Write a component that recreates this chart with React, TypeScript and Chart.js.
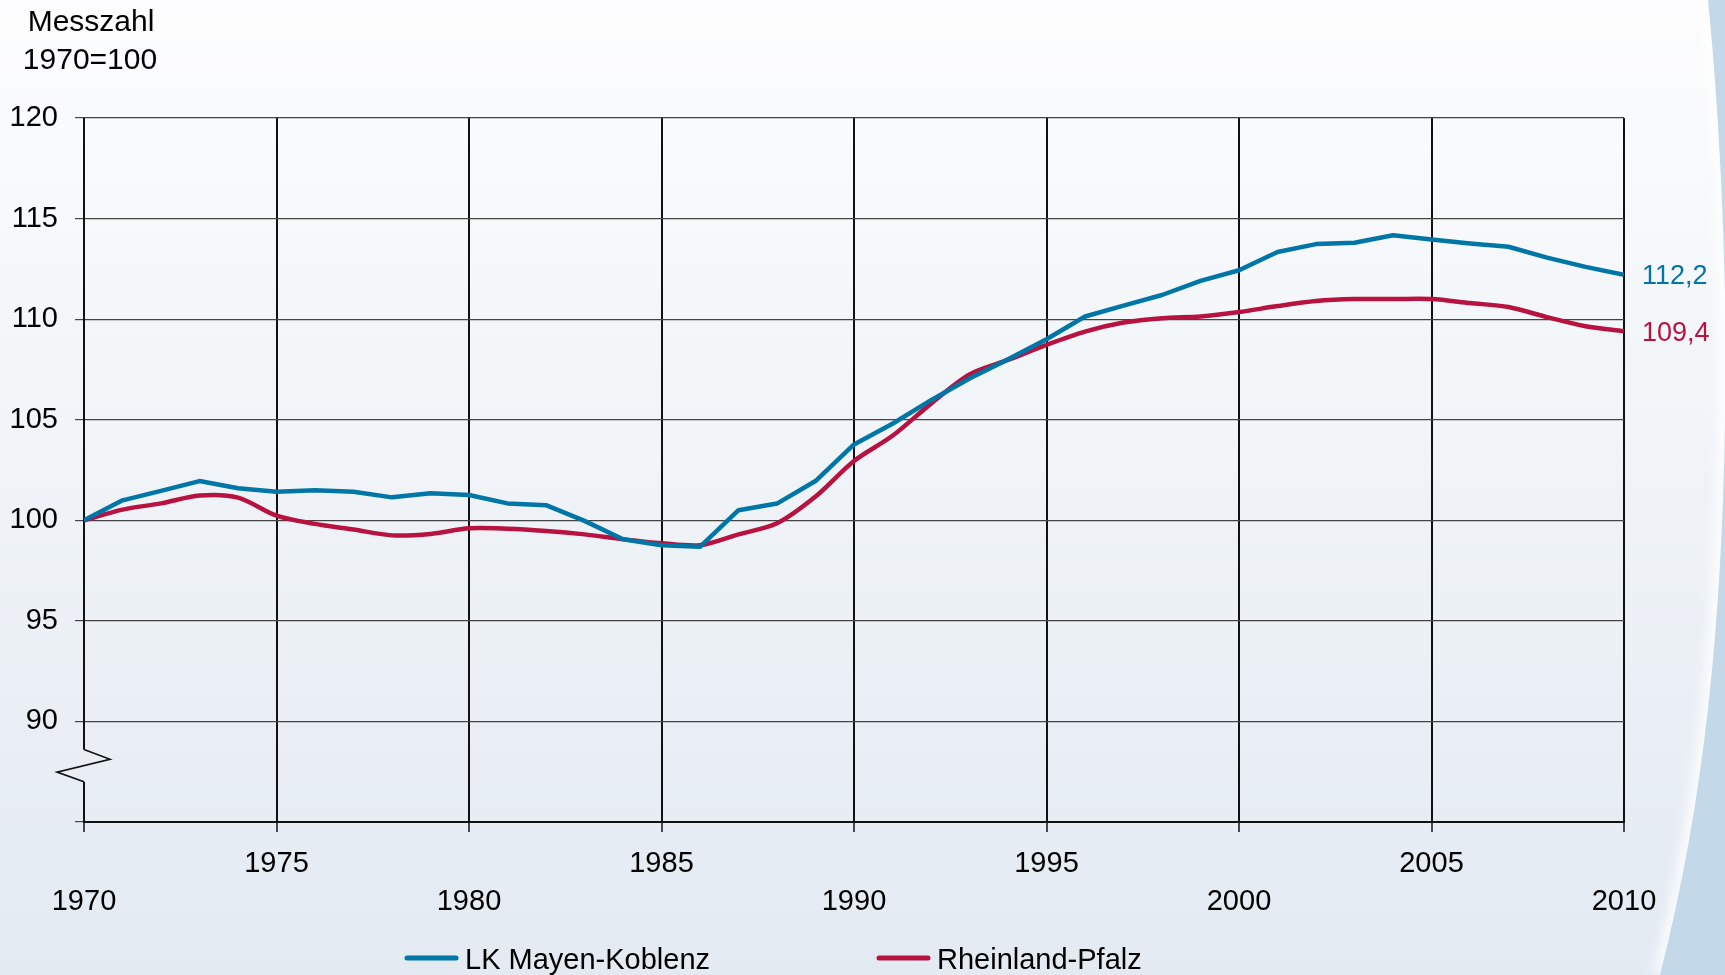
import React, { useEffect, useRef } from 'react';
import { Chart, registerables } from 'chart.js';

Chart.register(...registerables);

const years = [
  1970, 1971, 1972, 1973, 1974, 1975, 1976, 1977, 1978, 1979,
  1980, 1981, 1982, 1983, 1984, 1985, 1986, 1987, 1988, 1989,
  1990, 1991, 1992, 1993, 1994, 1995, 1996, 1997, 1998, 1999,
  2000, 2001, 2002, 2003, 2004, 2005, 2006, 2007, 2008, 2009, 2010,
];

const mayenKoblenz = [
  100, 100.99, 101.46, 101.95, 101.59, 101.42, 101.49, 101.42, 101.14, 101.34,
  101.26, 100.84, 100.75, 99.97, 99.06, 98.76, 98.68, 100.5, 100.83, 101.95,
  103.77, 104.8, 105.97, 107.05, 108.0, 109.0, 110.13, 110.67, 111.2, 111.9,
  112.43, 113.34, 113.73, 113.8, 114.17, 113.96, 113.76, 113.6, 113.06, 112.6, 112.2,
];

const rheinlandPfalz = [
  100, 100.53, 100.84, 101.23, 101.13, 100.23, 99.82, 99.54, 99.25, 99.32,
  99.6, 99.58, 99.47, 99.3, 99.06, 98.86, 98.76, 99.3, 99.85, 101.18,
  102.95, 104.2, 105.8, 107.25, 107.97, 108.72, 109.38, 109.83, 110.05, 110.13,
  110.35, 110.65, 110.9, 111.0, 111.0, 111.0, 110.8, 110.6, 110.1, 109.65, 109.4,
];

const seriesLabels = ['LK Mayen-Koblenz', 'Rheinland-Pfalz'];
const upperRowYears = [1975, 1985, 1995, 2005];
const yTitleLines = ['Messzahl', '1970=100'];
const axisBreak = [88.6, 87.0];

const BLUE = '#0076a6';
const RED = '#b81240';
const FONT = "'Liberation Sans', Arial, Helvetica, sans-serif";

function swooshPath(ctx: any) {
  ctx.moveTo(1708, 0);
  ctx.bezierCurveTo(1720, 120, 1728, 280, 1725, 420);
  ctx.bezierCurveTo(1722, 620, 1705, 800, 1660, 975);
}

const bgPlugin = {
  id: 'bgPlugin',
  beforeDraw(chart: any) {
    const { ctx, width, height } = chart;
    ctx.save();
    const g = ctx.createLinearGradient(0, 0, 0, height);
    g.addColorStop(0, '#fdfdfe');
    g.addColorStop(0.35, '#f3f6f9');
    g.addColorStop(1, '#e3eaf2');
    ctx.fillStyle = g;
    ctx.fillRect(0, 0, width, height);
    // soft white glow along the swoosh edge
    ctx.save();
    ctx.beginPath();
    swooshPath(ctx);
    ctx.strokeStyle = 'rgba(255,255,255,0.85)';
    ctx.lineWidth = 14;
    ctx.filter = 'blur(6px)';
    ctx.stroke();
    ctx.restore();
    // blue swoosh
    ctx.beginPath();
    swooshPath(ctx);
    ctx.lineTo(width, height);
    ctx.lineTo(width, 0);
    ctx.closePath();
    ctx.fillStyle = '#c3d8e8';
    ctx.fill();
    ctx.restore();
  },
};

const axisPlugin = {
  id: 'axisPlugin',
  beforeDatasetsDraw(chart: any) {
    const { ctx, chartArea } = chart;
    const y = chart.scales.y;
    const x0 = chartArea.left;
    const b1 = y.getPixelForValue(axisBreak[0]);
    const b2 = y.getPixelForValue(axisBreak[1]);
    const h = b2 - b1;
    ctx.save();
    ctx.strokeStyle = '#111';
    ctx.lineWidth = 2;
    ctx.beginPath();
    ctx.moveTo(x0, chartArea.top);
    ctx.lineTo(x0, b1);
    ctx.stroke();
    ctx.beginPath();
    ctx.moveTo(x0, b2);
    ctx.lineTo(x0, chartArea.bottom);
    ctx.stroke();
    ctx.lineWidth = 1.6;
    ctx.lineJoin = 'miter';
    ctx.beginPath();
    ctx.moveTo(x0, b1);
    ctx.lineTo(x0 + 26, b1 + h * 0.3);
    ctx.lineTo(x0 - 27, b1 + h * 0.7);
    ctx.lineTo(x0, b2);
    ctx.stroke();
    ctx.restore();
  },
};

const labelPlugin = {
  id: 'labelPlugin',
  afterDraw(chart: any) {
    const { ctx, chartArea } = chart;
    const y = chart.scales.y;
    ctx.save();
    // y-axis title
    ctx.fillStyle = '#000';
    ctx.textAlign = 'center';
    ctx.textBaseline = 'alphabetic';
    ctx.font = `30px ${FONT}`;
    ctx.fillText(yTitleLines[0], 91, 31);
    ctx.fillText(yTitleLines[1], 90, 69);

    // end value labels
    ctx.textAlign = 'left';
    ctx.textBaseline = 'middle';
    ctx.font = `27px ${FONT}`;
    chart.data.datasets.forEach((ds: any) => {
      const last = ds.data[ds.data.length - 1];
      ctx.fillStyle = ds.borderColor;
      ctx.fillText(last.y.toFixed(1).replace('.', ','), chartArea.right + 18, y.getPixelForValue(last.y) + 2);
    });

    // legend
    const starts = [405, 877];
    const ly = 958;
    chart.data.datasets.forEach((ds: any, i: number) => {
      const sx = starts[i];
      ctx.strokeStyle = ds.borderColor;
      ctx.lineWidth = 5;
      ctx.lineCap = 'round';
      ctx.beginPath();
      ctx.moveTo(sx + 2, ly);
      ctx.lineTo(sx + 51, ly);
      ctx.stroke();
      ctx.fillStyle = '#000';
      ctx.textAlign = 'left';
      ctx.textBaseline = 'alphabetic';
      ctx.font = `29px ${FONT}`;
      ctx.fillText(ds.label, sx + 60, 969);
    });
    ctx.restore();
  },
};

export default function App() {
  const canvasRef = useRef<HTMLCanvasElement | null>(null);

  useEffect(() => {
    const canvas = canvasRef.current;
    if (!canvas) return;
    const chart = new Chart(canvas, {
      type: 'line',
      data: {
        datasets: [
          {
            label: seriesLabels[0],
            data: years.map((x, i) => ({ x, y: mayenKoblenz[i] })),
            borderColor: BLUE,
            backgroundColor: BLUE,
            borderWidth: 4.5,
            pointRadius: 0,
            tension: 0,
            borderJoinStyle: 'round',
          },
          {
            label: seriesLabels[1],
            data: years.map((x, i) => ({ x, y: rheinlandPfalz[i] })),
            borderColor: RED,
            backgroundColor: RED,
            borderWidth: 4.5,
            pointRadius: 0,
            tension: 0.3,
            borderJoinStyle: 'round',
          },
        ],
      },
      options: {
        responsive: false,
        animation: false,
        devicePixelRatio: 1,
        layout: { padding: { top: 118, right: 101, left: 0, bottom: 0 } },
        plugins: {
          legend: { display: false },
          tooltip: { enabled: false },
          title: { display: false },
        },
        scales: {
          x: {
            type: 'linear',
            min: 1970,
            max: 2010,
            afterFit: (s: any) => {
              s.height = 153;
            },
            ticks: {
              stepSize: 5,
              autoSkip: false,
              maxRotation: 0,
              minRotation: 0,
              padding: 13,
              color: '#000',
              font: { family: FONT, size: 29, lineHeight: 1.3 },
              callback: (v: any) => {
                const n = Number(v);
                return upperRowYears.includes(n) ? [String(n), ''] : ['', String(n)];
              },
            },
            grid: {
              color: (c: any) => (c.tick && c.tick.value === 1970 ? 'rgba(0,0,0,0)' : '#111'),
              lineWidth: 2,
              tickLength: 10,
              tickColor: '#111',
              tickWidth: 1.5,
            },
            border: { display: true, color: '#111', width: 2 },
          },
          y: {
            min: 85,
            max: 120,
            afterFit: (s: any) => {
              s.width = 84;
            },
            ticks: {
              stepSize: 5,
              padding: 17,
              color: '#000',
              font: { family: FONT, size: 29 },
              callback: (v: any) => (Number(v) === 85 ? '' : String(v)),
            },
            grid: {
              color: '#444',
              lineWidth: 1.2,
              tickLength: 9,
              tickColor: '#444',
            },
            border: { display: false },
          },
        },
      },
      plugins: [bgPlugin, axisPlugin, labelPlugin],
    } as any);
    return () => chart.destroy();
  }, []);

  return (
    <div style={{ position: 'fixed', left: 0, top: 0, width: 1725, height: 975 }}>
      <canvas ref={canvasRef} width={1725} height={975} style={{ display: 'block', width: 1725, height: 975 }} />
    </div>
  );
}
